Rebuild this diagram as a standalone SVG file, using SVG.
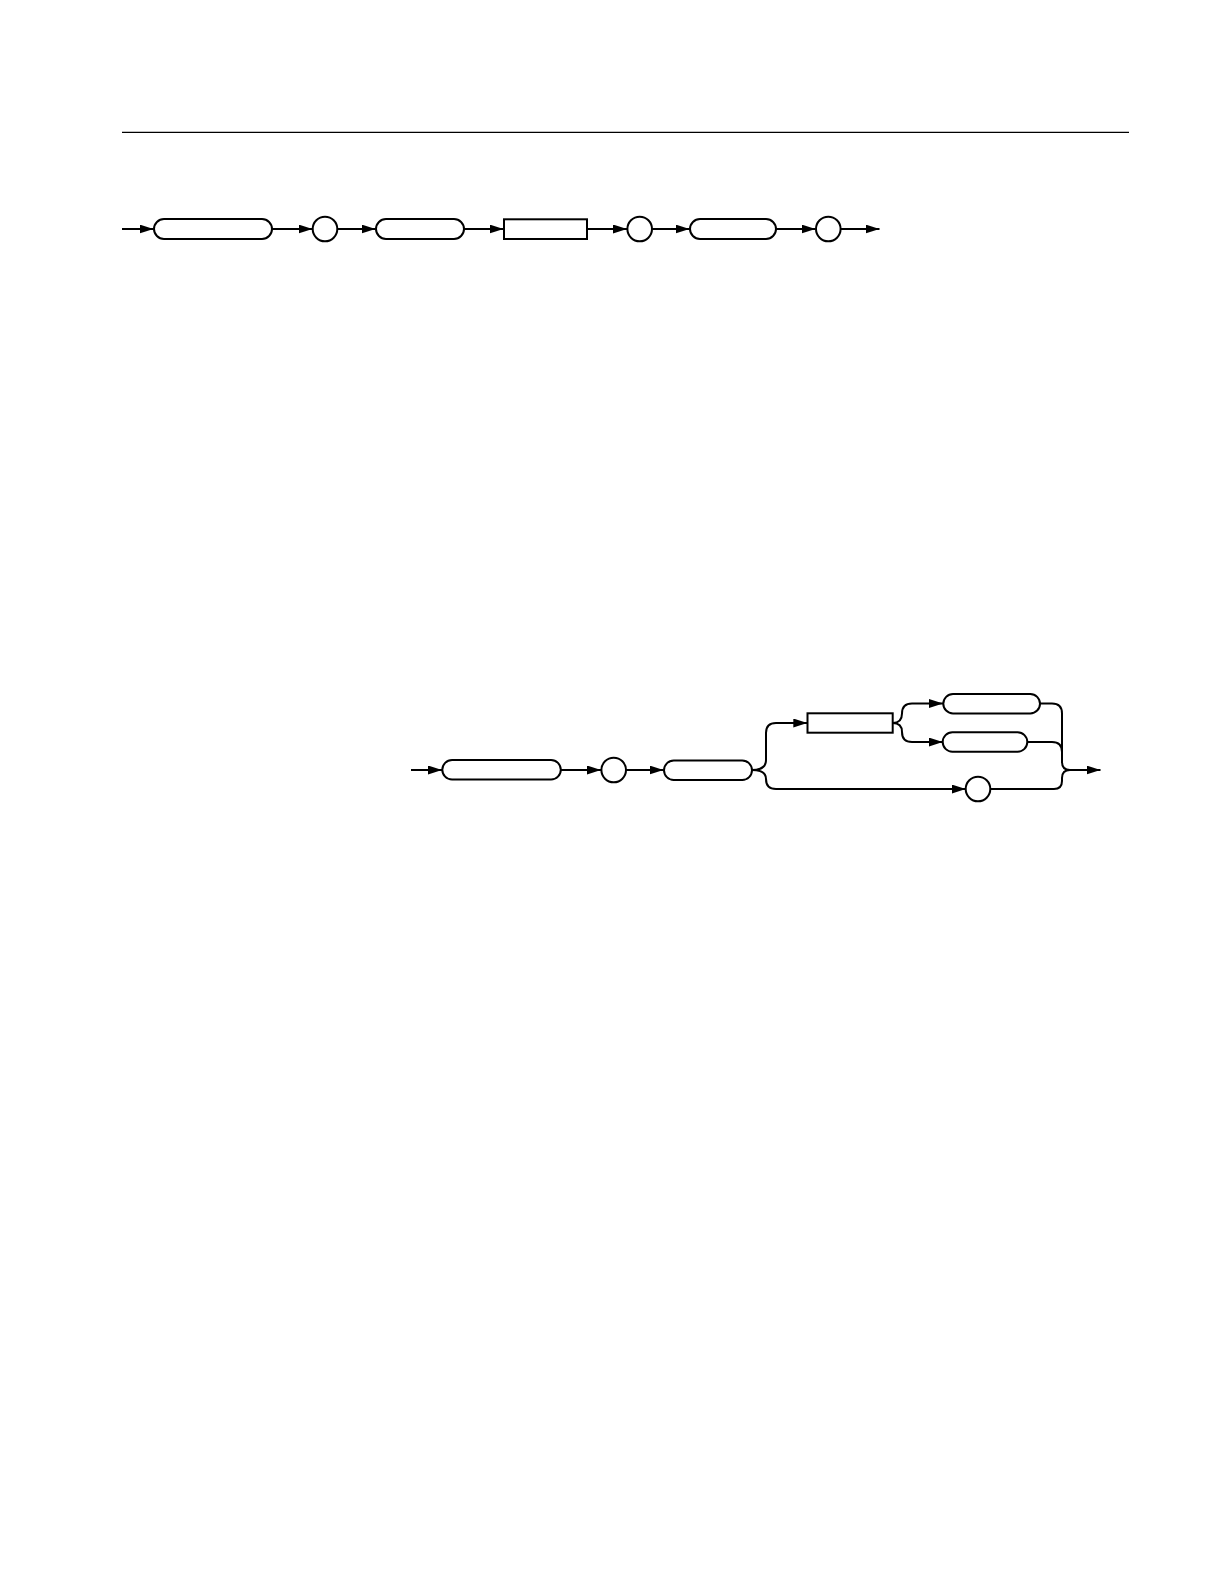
<svg xmlns="http://www.w3.org/2000/svg" width="1224" height="1584" viewBox="0 0 1224 1584">
<style>
.n{fill:#fff;stroke:#000;stroke-width:2}
.c{fill:none;stroke:#000;stroke-width:2}
.a{fill:none;stroke:#000;stroke-width:2;marker-end:url(#ah)}
</style>
<defs>
<marker id="ah" markerUnits="userSpaceOnUse" markerWidth="15" markerHeight="10" refX="14" refY="4.5" orient="auto">
<path d="M0,0 L14,4.5 L0,9 Z" fill="#000"/>
</marker>
</defs>
<rect width="1224" height="1584" fill="#fff"/>
<line x1="122" y1="132.3" x2="1129" y2="132.3" stroke="#000" stroke-width="1.3"/>

<g id="connectors">
<path class="a" d="M122,229 H153.5"/>
<path class="a" d="M272,229 H312.5"/>
<path class="a" d="M337.5,229 H375.5"/>
<path class="a" d="M464,229 H503.5"/>
<path class="a" d="M587,229 H627"/>
<path class="a" d="M652,229 H689.5"/>
<path class="a" d="M776,229 H815.5"/>
<path class="a" d="M840.7,229 H879.5"/>

<path class="a" d="M411,770 H442"/>
<path class="a" d="M561,770 H601"/>
<path class="a" d="M626,770 H663.5"/>
<path class="a" d="M752,770 Q766,770 766,760 V733 Q766,723 776,723 H807.3"/>
<path class="a" d="M752,770 Q766,770 766,779 Q766,789 776,789 H965.7"/>
<path class="a" d="M892.7,723 Q902,723 902,713.5 Q902,703.5 912,703.5 H943"/>
<path class="a" d="M892.7,723 Q902,723 902,732 Q902,742 912,742 H942.7"/>
<path class="c" d="M1040,703.5 H1052 Q1062,703.5 1062,713.5 V762 Q1062,770 1070,770"/>
<path class="c" d="M1027.3,742 H1052 Q1062,742 1062,752"/>
<path class="c" d="M990.3,789 H1054 Q1062,789 1062,781 V778 Q1062,770 1070,770"/>
<path class="a" d="M1068,770 H1100.5"/>
</g>

<g id="n1"><rect class="n" x="154" y="219" width="118" height="20" rx="10"/></g>
<g id="n2"><circle class="n" cx="325" cy="229" r="12.3"/></g>
<g id="n3"><rect class="n" x="376" y="219" width="88" height="20" rx="10"/></g>
<g id="n4"><rect class="n" x="504" y="219.3" width="83" height="19.7"/></g>
<g id="n5"><circle class="n" cx="639.7" cy="229" r="12.3"/></g>
<g id="n6"><rect class="n" x="690" y="219" width="86" height="20" rx="10"/></g>
<g id="n7"><circle class="n" cx="828.3" cy="229" r="12.3"/></g>

<g id="m1"><rect class="n" x="442.3" y="760" width="118.5" height="19.5" rx="9.75"/></g>
<g id="m2"><circle class="n" cx="613.7" cy="770" r="12.3"/></g>
<g id="m3"><rect class="n" x="664" y="760.5" width="88" height="19.5" rx="9.75"/></g>
<g id="m4"><rect class="n" x="807.5" y="713.3" width="85.2" height="19.4"/></g>
<g id="m5"><rect class="n" x="943.3" y="694" width="96.7" height="19.4" rx="9.7"/></g>
<g id="m6"><rect class="n" x="942.7" y="732.3" width="84.6" height="19.4" rx="9.7"/></g>
<g id="m7"><circle class="n" cx="978" cy="789" r="12.3"/></g>
</svg>
